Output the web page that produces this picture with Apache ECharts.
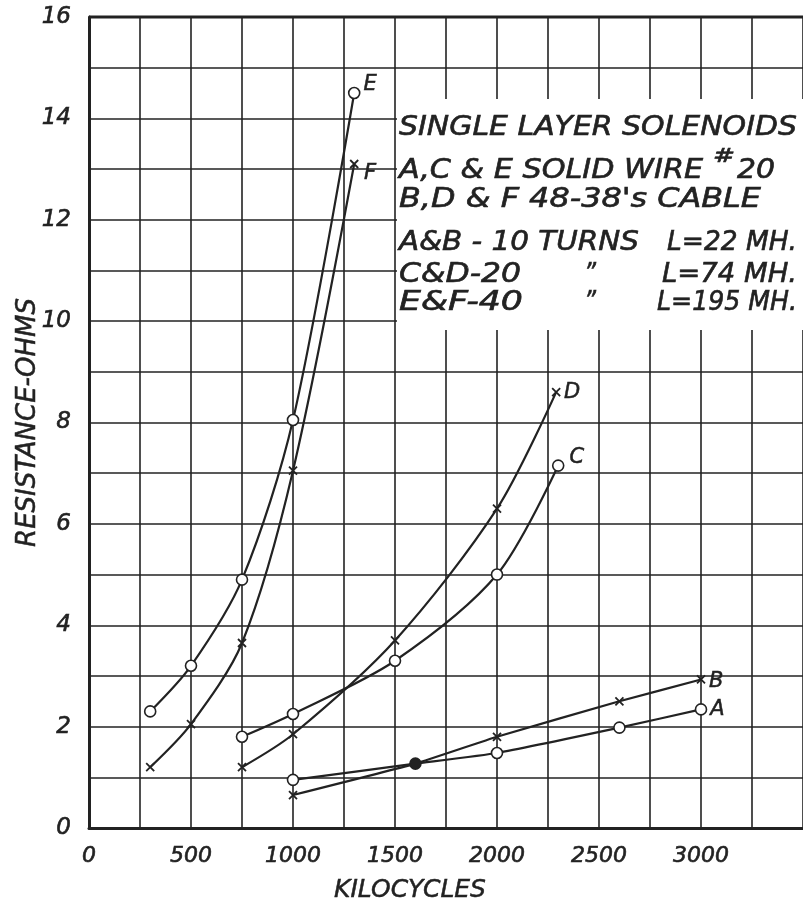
<!DOCTYPE html>
<html>
<head>
<meta charset="utf-8">
<title>Single layer solenoids</title>
<script src="https://cdn.jsdelivr.net/npm/echarts@6/dist/echarts.min.js"></script>
<style>
  html, body { margin: 0; padding: 0; background: #fff; }
  #chart { width: 803px; height: 908px; }
</style>
</head>
<body>
<div id="chart"></div>
<script>
// values (kilocycles, ohms)
var kcE = [300, 500, 750, 1000, 1300];
var ohmE = [2.3, 3.2, 4.9, 8.05, 14.5];
var kcF = [300, 500, 750, 1000, 1300];
var ohmF = [1.2, 2.05, 3.65, 7.05, 13.1];
var kcC = [750, 1000, 1500, 2000, 2300];
var ohmC = [1.8, 2.25, 3.3, 5.0, 7.15];
var kcD = [750, 1000, 1500, 2000, 2290];
var ohmD = [1.2, 1.85, 3.7, 6.3, 8.6];
var kcA = [1000, 1600, 2000, 2600, 3000];
var ohmA = [0.95, 1.27, 1.48, 1.98, 2.34];
var kcB = [1000, 1600, 2000, 2600, 3000];
var ohmB = [0.65, 1.27, 1.8, 2.5, 2.93];
// the one solid dot where A and B meet
var jointKc = 1600;

var xTickLabels = [0, 500, 1000, 1500, 2000, 2500, 3000];
var yTickLabels = [0, 2, 4, 6, 8, 10, 12, 14, 16];

var ink = "#222";
var font = '"DejaVu Sans", sans-serif';
var crossPath = "path://M0,0L10,10M10,0L0,10";

function makeData(kc, ohm, name, labelOffset, filledJoint, hideJoint) {
  return kc.map(function (x, i) {
    var item = { value: [x, ohm[i]] };
    if (x === jointKc && filledJoint) {
      item.symbol = "circle";
      item.symbolSize = 11;
      item.itemStyle = { color: ink, borderColor: ink };
    }
    if (x === jointKc && hideJoint) {
      item.symbol = "none";
    }
    if (i === kc.length - 1) {
      item.label = {
        show: true,
        formatter: name,
        position: "right",
        offset: labelOffset,
        fontFamily: font,
        fontStyle: "italic",
        fontSize: 21,
        color: ink,
        textBorderColor: ink,
        textBorderWidth: 0.5
      };
    }
    return item;
  });
}

function series(name, kc, ohm, open, labelOffset, smooth, extra) {
  var s = {
    name: name,
    type: "line",
    smooth: smooth,
    data: makeData(kc, ohm, name, labelOffset, extra === "fill", extra === "hide"),
    symbol: open ? "circle" : crossPath,
    symbolSize: open ? 11 : 8,
    showAllSymbol: true,
    lineStyle: { color: ink, width: 2.2 },
    itemStyle: open
      ? { color: "#fff", borderColor: ink, borderWidth: 1.6 }
      : { color: "#fff", borderColor: ink, borderWidth: 1.8 },
    emphasis: { disabled: true },
    z: 3
  };
  return s;
}

// measure text so the lettering can be stretched to the width it has on the sheet
var measureCtx = document.createElement("canvas").getContext("2d");
function note(text, x, y, width, size, align) {
  var f = "italic " + size + "px " + font;
  measureCtx.font = f;
  var w = measureCtx.measureText(text).width;
  return {
    type: "text",
    x: x,
    y: y,
    scaleX: width / w,
    z: 5,
    style: {
      text: text,
      font: f,
      fill: ink,
      stroke: ink,
      lineWidth: 0.6,
      align: align || "left",
      verticalAlign: "middle"
    }
  };
}

var labelStyle = {
  fontFamily: font,
  fontStyle: "italic",
  fontSize: 23,
  color: ink,
  textBorderColor: ink,
  textBorderWidth: 0.6
};

var chart = echarts.init(document.getElementById("chart"), null, { renderer: "canvas" });
chart.setOption({
  animation: false,
  backgroundColor: "#fff",
  grid: { left: 89, right: 0, top: 17, bottom: 80, outerBoundsMode: "none" },
  xAxis: {
    type: "value",
    min: 0,
    max: 3500,
    interval: 250,
    name: "KILOCYCLES",
    nameLocation: "middle",
    nameGap: 50,
    nameTextStyle: {
      fontFamily: font,
      fontStyle: "italic",
      fontSize: 25,
      color: ink,
      textBorderColor: ink,
      textBorderWidth: 0.5,
      padding: [0, 72, 0, 0]
    },
    axisLine: { lineStyle: { color: ink, width: 3 } },
    axisTick: { show: false },
    splitLine: { show: true, lineStyle: { color: ink, width: 1.6 } },
    axisLabel: Object.assign({}, labelStyle, {
      margin: 17,
      fontSize: 22,
      showMaxLabel: false,
      formatter: function (v) {
        return xTickLabels.indexOf(v) >= 0 ? String(v) : "";
      }
    })
  },
  yAxis: {
    type: "value",
    min: 0,
    max: 16,
    interval: 1,
    name: "RESISTANCE-OHMS",
    nameLocation: "middle",
    nameGap: 48,
    nameMoveOverlap: false,
    nameTextStyle: {
      fontFamily: font,
      fontStyle: "italic",
      fontSize: 26,
      color: ink,
      textBorderColor: ink,
      textBorderWidth: 0.5
    },
    axisLine: { lineStyle: { color: ink, width: 3 } },
    axisTick: { show: false },
    splitLine: { show: true, lineStyle: { color: ink, width: 1.6 } },
    axisLabel: Object.assign({}, labelStyle, {
      margin: 18,
      formatter: function (v) {
        return yTickLabels.indexOf(v) >= 0 ? String(v) : "";
      }
    })
  },
  series: [
    series("E", kcE, ohmE, true, [-2, -8], 0.3),
    series("F", kcF, ohmF, false, [0, 10], 0.3),
    series("C", kcC, ohmC, true, [0, -8], 0.3),
    series("D", kcD, ohmD, false, [-2, 0], 0.3),
    series("A", kcA, ohmA, true, [-2, 0], 0.15, "fill"),
    series("B", kcB, ohmB, false, [-2, 2], 0.15, "hide")
  ],
  graphic: [
    // blank panel behind the legend text (no grid lines there)
    { type: "rect", shape: { x: 397, y: 99, width: 406, height: 231 }, style: { fill: "#fff" }, z: 1 },
    // heavier top border line
    { type: "line", shape: { x1: 89, y1: 17, x2: 803, y2: 17 }, style: { stroke: ink, lineWidth: 3 }, z: 1 },
    note("SINGLE LAYER SOLENOIDS", 399, 128, 398, 26),
    note("A,C & E SOLID WIRE", 399, 171, 304, 26),
    note("#", 713, 157, 22, 20),
    note("20", 737, 171, 38, 26),
    note("B,D & F 48-38's CABLE", 399, 200, 362, 26),
    note("A&B - 10 TURNS", 399, 243, 240, 26),
    note("L=22 MH.", 797, 243, 130, 26, "right"),
    note("C&D-20", 399, 275, 122, 26),
    note("\u201D", 590, 275, 12, 26, "center"),
    note("L=74 MH.", 797, 275, 135, 26, "right"),
    note("E&F-40", 399, 303, 124, 26),
    note("\u201D", 590, 303, 12, 26, "center"),
    note("L=195 MH.", 797, 303, 140, 26, "right")
  ]
});
</script>
</body>
</html>
